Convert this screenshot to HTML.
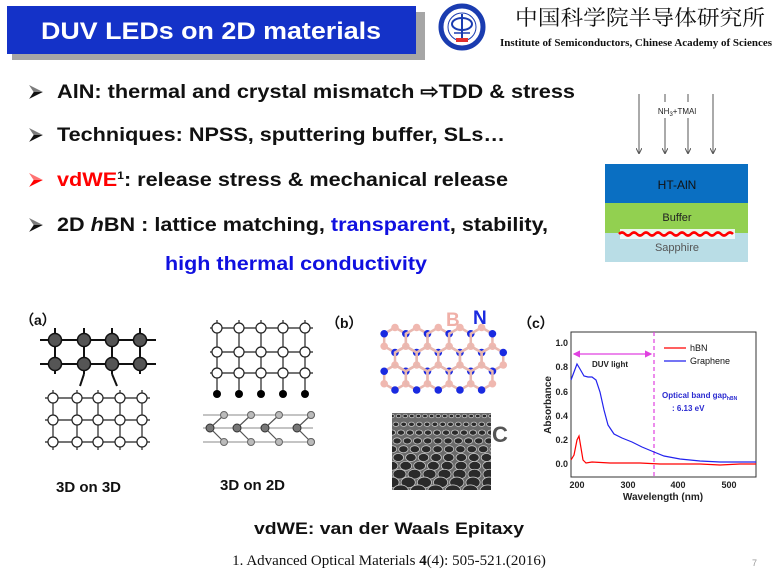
<!DOCTYPE html>
<html><head><meta charset="utf-8"><style>
html,body{margin:0;padding:0;background:#fff;}
svg{display:block;font-family:"Liberation Sans",Arial,sans-serif;}
</style></head><body>
<svg id="s" width="779" height="575" viewBox="0 0 779 575" xmlns="http://www.w3.org/2000/svg">
<defs>
<marker id="ar" markerWidth="6" markerHeight="6" refX="5" refY="3" orient="auto"><path d="M0,0 L6,3 L0,6" fill="none" stroke="#555" stroke-width="1"/></marker>
<marker id="pm" markerWidth="6" markerHeight="6" refX="5" refY="3" orient="auto"><path d="M0,0 L6,3 L0,6 z" fill="#e040e0"/></marker>
<marker id="pm2" markerWidth="6" markerHeight="6" refX="1" refY="3" orient="auto"><path d="M6,0 L0,3 L6,6 z" fill="#e040e0"/></marker>
<symbol id="bul" viewBox="0 0 14 14"><path d="M1,1 L13,7 L1,13 L5,7 z" fill="currentColor"/><path d="M1,1 L13,7 L5,7 z" fill="#fff" opacity="0.45"/></symbol>
</defs>
<!-- title -->
<rect x="12" y="12" width="413" height="48" fill="#a6a6a6"/>
<rect x="7" y="6" width="409" height="48" fill="#1432c8"/>
<text x="211" y="39" font-size="24" font-weight="bold" fill="#fff" text-anchor="middle" textLength="340" lengthAdjust="spacingAndGlyphs">DUV LEDs on 2D materials</text>
<!-- logo -->
<circle cx="462" cy="27" r="21" fill="#fff" stroke="#1a3cb0" stroke-width="5"/>
<circle cx="462" cy="27" r="14" fill="#fff" stroke="#1a3cb0" stroke-width="1"/>
<ellipse cx="462" cy="24" rx="10" ry="6" fill="none" stroke="#1a3cb0" stroke-width="2"/>
<line x1="462" y1="14" x2="462" y2="38" stroke="#1a3cb0" stroke-width="2"/>
<line x1="454" y1="33" x2="470" y2="33" stroke="#1a3cb0" stroke-width="1.5"/>
<rect x="456" y="38" width="12" height="4" fill="#e03030"/>
<text x="640" y="25" font-size="21" text-anchor="middle" fill="#111" font-family="'Noto Serif CJK SC','Noto Sans CJK SC',serif" textLength="250" lengthAdjust="spacingAndGlyphs">中国科学院半导体研究所</text>
<text x="636" y="46" font-size="10.5" font-weight="bold" text-anchor="middle" fill="#111" font-family="'Liberation Serif',serif" textLength="272" lengthAdjust="spacingAndGlyphs">Institute of Semiconductors, Chinese Academy of Sciences</text>
<!-- bullets -->
<use href="#bul" x="28" y="84" width="16" height="16" color="#111"/>
<use href="#bul" x="28" y="127" width="16" height="16" color="#111"/>
<use href="#bul" x="28" y="172" width="16" height="16" color="#f00"/>
<use href="#bul" x="28" y="217" width="16" height="16" color="#111"/>
<g font-size="19.5" font-weight="bold" fill="#111">
<text x="57" y="98" textLength="518" lengthAdjust="spacingAndGlyphs">AlN: thermal and crystal mismatch ⇨TDD &amp; stress</text>
<text x="57" y="141" textLength="448" lengthAdjust="spacingAndGlyphs">Techniques: NPSS, sputtering buffer, SLs…</text>
<text x="57" y="186" textLength="451" lengthAdjust="spacingAndGlyphs"><tspan fill="#f00">vdWE</tspan><tspan font-size="11" dy="-7">1</tspan><tspan dy="7">: release stress &amp; mechanical release</tspan></text>
<text x="57" y="231" textLength="491" lengthAdjust="spacingAndGlyphs">2D <tspan font-style="italic">h</tspan>BN : lattice matching, <tspan fill="#1010e0">transparent</tspan>, stability,</text>
<text x="165" y="270" fill="#1010e0" textLength="262" lengthAdjust="spacingAndGlyphs">high thermal conductivity</text>
</g>
<!-- right diagram -->
<g stroke="#555" stroke-width="1">
<line x1="639" y1="94" x2="639" y2="153" marker-end="url(#ar)"/>
<line x1="665" y1="94" x2="665" y2="153" marker-end="url(#ar)"/>
<line x1="688" y1="94" x2="688" y2="153" marker-end="url(#ar)"/>
<line x1="713" y1="94" x2="713" y2="153" marker-end="url(#ar)"/>
</g>
<rect x="651" y="102" width="52" height="16" fill="#fff"/>
<text x="677" y="114" font-size="8" text-anchor="middle" fill="#222">NH<tspan font-size="6" dy="2">3</tspan><tspan dy="-2">+TMAl</tspan></text>
<rect x="605" y="164" width="143" height="40" fill="#0a6fc2"/>
<rect x="605" y="203" width="143" height="31" fill="#92d050"/>
<rect x="605" y="233" width="143" height="29" fill="#b9dde6"/>
<rect x="620" y="229" width="115" height="10" fill="#f4fbfc" opacity="0.9"/>
<path d="M619,234 q3,-3 6,0 t6,0 t6,0 t6,0 t6,0 t6,0 t6,0 t6,0 t6,0 t6,0 t6,0 t6,0 t6,0 t6,0 t6,0 t6,0 t6,0 t6,0 t6,0" fill="none" stroke="#f00" stroke-width="2.5"/>
<text x="677" y="189" font-size="12" text-anchor="middle" fill="#111">HT-AlN</text>
<text x="677" y="221" font-size="11" text-anchor="middle" fill="#222">Buffer</text>
<text x="677" y="251" font-size="11" text-anchor="middle" fill="#555">Sapphire</text>
<!-- labels -->
<g font-size="14" font-weight="bold" fill="#111">
<text x="20" y="325">（a）</text>
<text x="326" y="328">（b）</text>
<text x="518" y="328">（c）</text>
<text x="56" y="492" font-size="15">3D on 3D</text>
<text x="220" y="490" font-size="15">3D on 2D</text>
</g>
<g id="lat"></g>
<!-- graphene -->
<svg x="392" y="413" width="99" height="77" overflow="hidden">
<rect x="0" y="0" width="99" height="77" fill="#6a6a6a"/>
<g id="gph" stroke="#c8c8c8" stroke-width="0.8" fill="#2a2a2a"></g>
</svg>
<text x="492" y="442" font-size="22" font-weight="bold" fill="#555">C</text>
<text x="446" y="326" font-size="19" font-weight="bold" fill="#f0b0a8">B</text>
<text x="473" y="324" font-size="19" font-weight="bold" fill="#1a2ae0">N</text>
<g id="hbn"></g>
<!-- chart -->
<rect x="571" y="332" width="185" height="145" fill="none" stroke="#333" stroke-width="1"/>
<g font-size="9" font-weight="bold" fill="#222" text-anchor="end">
<text x="568" y="346">1.0</text><text x="568" y="370">0.8</text><text x="568" y="395">0.6</text><text x="568" y="419">0.4</text><text x="568" y="443">0.2</text><text x="568" y="467">0.0</text>
</g>
<g font-size="9" font-weight="bold" fill="#222" text-anchor="middle">
<text x="577" y="488">200</text><text x="628" y="488">300</text><text x="678" y="488">400</text><text x="729" y="488">500</text>
<text x="663" y="500" font-size="10">Wavelength (nm)</text>
</g>
<text x="551" y="405" font-size="10" font-weight="bold" fill="#222" text-anchor="middle" transform="rotate(-90 551 405)">Absorbance</text>
<line x1="654" y1="332" x2="654" y2="477" stroke="#e040e0" stroke-width="1.2" stroke-dasharray="4,3"/>
<line x1="574" y1="354" x2="651" y2="354" stroke="#e040e0" stroke-width="1.2" marker-end="url(#pm)" marker-start="url(#pm2)"/>
<text x="610" y="367" font-size="8" font-weight="bold" fill="#222" text-anchor="middle">DUV light</text>
<line x1="664" y1="348" x2="686" y2="348" stroke="#f00" stroke-width="1.2"/>
<line x1="664" y1="361" x2="686" y2="361" stroke="#22e" stroke-width="1.2"/>
<text x="690" y="351" font-size="9" fill="#111">hBN</text>
<text x="690" y="364" font-size="9" fill="#111">Graphene</text>
<text x="662" y="398" font-size="8" font-weight="bold" fill="#2a2ad0">Optical band gap<tspan font-size="5" dy="2">hBN</tspan></text>
<text x="672" y="411" font-size="8" font-weight="bold" fill="#2a2ad0">: 6.13 eV</text>
<polyline fill="none" stroke="#22e" stroke-width="1.2" points="571,380 574,372 577,364 580,369 584,376 588,377 592,377 596,380 600,392 604,410 608,425 614,434 622,438 632,442 642,447 654,452 664,456 680,459 700,461 720,462 740,462 756,462"/>
<polyline fill="none" stroke="#f00" stroke-width="1.2" points="571,460 574,455 577,440 579,436 581,448 583,460 586,463 592,462 610,463 640,463 660,464 680,464 700,464 720,465 740,464 756,464"/>
<!-- bottom -->
<text x="389" y="534" font-size="17" font-weight="bold" fill="#111" text-anchor="middle" textLength="270" lengthAdjust="spacingAndGlyphs">vdWE: van der Waals Epitaxy</text>
<text x="389" y="565" font-size="15" fill="#111" text-anchor="middle" font-family="'Liberation Serif',serif">1. Advanced Optical Materials <tspan font-weight="bold">4</tspan>(4): 505-521.(2016)</text>
<text x="752" y="566" font-size="9" fill="#999">7</text>
</svg>
<script>
var NS="http://www.w3.org/2000/svg",lat=document.getElementById("lat");
function el(t,a,p){var e=document.createElementNS(NS,t);for(var k in a)e.setAttribute(k,a[k]);(p||lat).appendChild(e);return e;}
var dx=[55,84,112,140],dy=[340,364];
dy.forEach(function(y){el("line",{x1:40,y1:y,x2:156,y2:y,stroke:"#111","stroke-width":2});});
dx.forEach(function(x){el("line",{x1:x,y1:328,x2:x,y2:374,stroke:"#111","stroke-width":2});});
el("line",{x1:84,y1:374,x2:80,y2:386,stroke:"#111","stroke-width":2});el("line",{x1:112,y1:374,x2:117,y2:386,stroke:"#111","stroke-width":2});
dy.forEach(function(y){dx.forEach(function(x){el("circle",{cx:x,cy:y,r:6.5,fill:"#555",stroke:"#111","stroke-width":1.5});});});
var wx=[53,77,98,120,142],wy=[398,420,442];
wy.forEach(function(y){el("line",{x1:45,y1:y,x2:150,y2:y,stroke:"#222","stroke-width":1.2});});
wx.forEach(function(x){el("line",{x1:x,y1:390,x2:x,y2:450,stroke:"#222","stroke-width":1.2});});
wy.forEach(function(y){wx.forEach(function(x){el("circle",{cx:x,cy:y,r:5,fill:"#fff",stroke:"#222","stroke-width":1.2});});});
var bx=[217,239,261,283,305],by=[328,352,373];
by.forEach(function(y){el("line",{x1:210,y1:y,x2:313,y2:y,stroke:"#222","stroke-width":1.2});});
bx.forEach(function(x){el("line",{x1:x,y1:320,x2:x,y2:394,stroke:"#222","stroke-width":1.2});});
by.forEach(function(y){bx.forEach(function(x){el("circle",{cx:x,cy:y,r:5,fill:"#fff",stroke:"#222","stroke-width":1.2});});});
bx.forEach(function(x){el("circle",{cx:x,cy:394,r:4,fill:"#000"});});
[415,428,442].forEach(function(y){el("line",{x1:203,y1:y,x2:313,y2:y,stroke:"#888","stroke-width":1});});
[210,237,265,297].forEach(function(x){el("polyline",{points:(x+14)+",415 "+x+",428 "+(x+14)+",442",fill:"none",stroke:"#555","stroke-width":1.2});
 el("circle",{cx:x+14,cy:415,r:3.5,fill:"#bbb",stroke:"#666"});el("circle",{cx:x+14,cy:442,r:3.5,fill:"#bbb",stroke:"#666"});el("circle",{cx:x,cy:428,r:4,fill:"#777",stroke:"#333"});});
el("circle",{cx:311,cy:415,r:3.5,fill:"#bbb",stroke:"#666"});el("circle",{cx:311,cy:442,r:3.5,fill:"#bbb",stroke:"#666"});
var g=document.getElementById("gph");
for(var r=0;r<10;r++){var y=3+r*8.3,s=2.3+r*0.6;for(var x=(r%2)*(s+1);x<99+s;x+=2*s+2){el("ellipse",{cx:x,cy:y,rx:s,ry:s*0.75},g);}}
var h=document.getElementById("hbn"),R=12.5,W=Math.sqrt(3)*R,seen={};
for(var j=0;j<3;j++)for(var i=0;i<5;i++){var cx=395+i*W+(j%2?W/2:0),cy=340+j*1.5*R;if(cx>500)continue;
 var pts=[];for(var k=0;k<6;k++){var a=-Math.PI/2+k*Math.PI/3;pts.push([cx+R*Math.cos(a),cy+R*Math.sin(a)]);}
 el("polygon",{points:pts.map(function(p){return p.join(",")}).join(" "),fill:"none",stroke:"#e8b8b0","stroke-width":2.5},h);
 pts.forEach(function(p,k){var key=Math.round(p[0])+"_"+Math.round(p[1]);if(seen[key])return;seen[key]=1;el("circle",{cx:p[0],cy:p[1],r:3.8,fill:k%2?"#1a2ae0":"#f0b8b0"},h);});}
</script>
</body></html>
